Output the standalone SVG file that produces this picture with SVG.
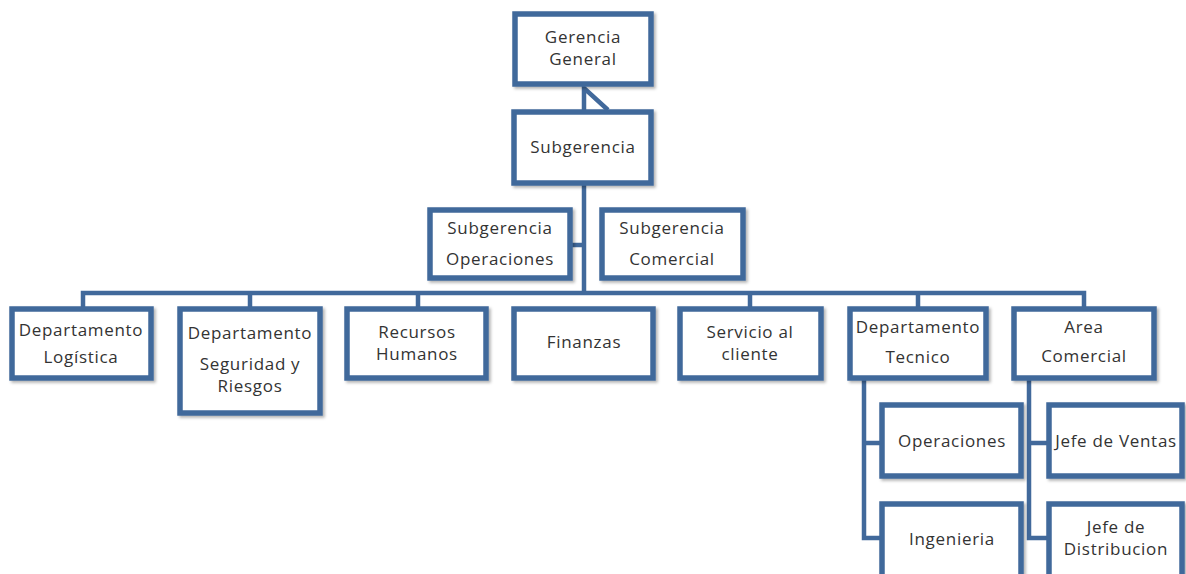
<svg xmlns="http://www.w3.org/2000/svg" width="1186" height="574" viewBox="0 0 1186 574">
<defs>
<filter id="sh" x="-10%" y="-10%" width="130%" height="130%">
<feDropShadow dx="2" dy="2" stdDeviation="1.5" flood-color="#000" flood-opacity="0.3"/>
</filter>
<style>
.box{fill:#fff;stroke:#41699b;stroke-width:5.5;filter:url(#sh)}
.ln{fill:none;stroke:#41699b;stroke-width:4.5}
text{font-family:"Open Sans","Liberation Sans",sans-serif;font-size:17px;fill:#333;text-anchor:middle;letter-spacing:0.7px}
</style>
</defs>
<rect width="1186" height="574" fill="#fff"/>
<g id="connectors">
<path class="ln" d="M584,112 L584,88 L608,110"/>
<path class="ln" d="M584,185 L584,293"/>
<path class="ln" d="M572,245 L584,245"/>
<path class="ln" d="M83,307 L83,293 L1084,293 L1084,307"/>
<path class="ln" d="M250,293 L250,307 M418,293 L418,307 M750,293 L750,307 M918,293 L918,307"/>
<path class="ln" d="M864,380 L864,538 L882,538 M864,443 L882,443"/>
<path class="ln" d="M1029,380 L1029,538 L1049,538 M1029,443 L1049,443"/>
</g>
<g id="gerencia-general"><rect class="box" x="515" y="14" width="136" height="70"/><text x="583" y="43">Gerencia</text><text x="583" y="65">General</text></g>
<g id="subgerencia"><rect class="box" x="514" y="112" width="137" height="71"/><text x="583" y="153">Subgerencia</text></g>
<g id="subgerencia-operaciones"><rect class="box" x="430" y="210" width="140" height="68"/><text x="500" y="234">Subgerencia</text><text x="500" y="265">Operaciones</text></g>
<g id="subgerencia-comercial"><rect class="box" x="602" y="210" width="141" height="68"/><text x="672" y="234">Subgerencia</text><text x="672" y="265">Comercial</text></g>
<g id="dep-logistica"><rect class="box" x="12" y="309" width="139" height="69"/><text x="81" y="336">Departamento</text><text x="81" y="363">Logística</text></g>
<g id="dep-seguridad"><rect class="box" x="180" y="309" width="140" height="104"/><text x="250" y="339">Departamento</text><text x="250" y="370">Seguridad y</text><text x="250" y="392">Riesgos</text></g>
<g id="recursos-humanos"><rect class="box" x="347" y="309" width="139" height="69"/><text x="417" y="338">Recursos</text><text x="417" y="360">Humanos</text></g>
<g id="finanzas"><rect class="box" x="514" y="309" width="139" height="69"/><text x="584" y="348">Finanzas</text></g>
<g id="servicio-cliente"><rect class="box" x="680" y="309" width="141" height="69"/><text x="750" y="338">Servicio al</text><text x="750" y="360">cliente</text></g>
<g id="dep-tecnico"><rect class="box" x="850" y="309" width="136" height="69"/><text x="918" y="333">Departamento</text><text x="918" y="363">Tecnico</text></g>
<g id="area-comercial"><rect class="box" x="1014" y="309" width="140" height="69"/><text x="1084" y="333">Area</text><text x="1084" y="362">Comercial</text></g>
<g id="operaciones"><rect class="box" x="882" y="405" width="139" height="71"/><text x="952" y="447">Operaciones</text></g>
<g id="ingenieria"><rect class="box" x="882" y="504" width="139" height="80"/><text x="952" y="545">Ingenieria</text></g>
<g id="jefe-ventas"><rect class="box" x="1049" y="405" width="133" height="71"/><text x="1116" y="447">Jefe de Ventas</text></g>
<g id="jefe-distribucion"><rect class="box" x="1049" y="504" width="133" height="80"/><text x="1116" y="533">Jefe de</text><text x="1116" y="555">Distribucion</text></g>
</svg>
